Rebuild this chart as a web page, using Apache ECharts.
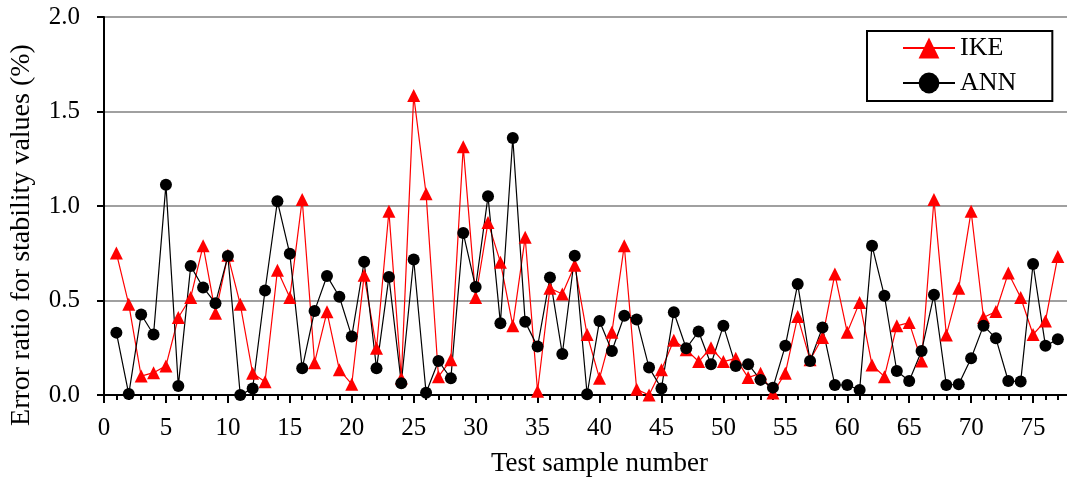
<!DOCTYPE html>
<html>
<head>
<meta charset="utf-8">
<script src="https://cdn.jsdelivr.net/npm/echarts@6/dist/echarts.min.js"></script>
<style>
html,body{margin:0;padding:0;background:#fff;}
#chart{width:1067px;height:484px;}
</style>
</head>
<body>
<div id="chart"></div>
<script>
const samples = [1,2,3,4,5,6,7,8,9,10,11,12,13,14,15,16,17,18,19,20,21,22,23,24,25,26,27,28,29,30,31,32,33,34,35,36,37,38,39,40,41,42,43,44,45,46,47,48,49,50,51,52,53,54,55,56,57,58,59,60,61,62,63,64,65,66,67,68,69,70,71,72,73,74,75,76,77];
const ike = [0.751,0.48,0.10,0.118,0.154,0.41,0.516,0.79,0.433,0.739,
  0.48,0.115,0.07,0.66,0.516,1.034,0.171,0.44,0.133,0.057,
  0.633,0.247,0.972,0.088,1.585,1.065,0.097,0.186,1.313,0.516,
  0.913,0.703,0.367,0.834,0.02,0.565,0.534,0.686,0.32,0.088,
  0.332,0.79,0.03,0.0,0.133,0.29,0.24,0.177,0.25,0.177,
  0.194,0.092,0.115,0.01,0.115,0.415,0.186,0.304,0.64,0.332,
  0.49,0.159,0.097,0.366,0.383,0.18,1.034,0.318,0.565,0.972,
  0.41,0.442,0.645,0.516,0.32,0.392,0.733];
const ann = [0.33,0.005,0.426,0.32,1.113,0.048,0.682,0.569,0.486,0.735,
  0.0,0.035,0.553,1.025,0.747,0.141,0.445,0.63,0.52,0.31,
  0.705,0.141,0.624,0.062,0.717,0.012,0.18,0.088,0.857,0.571,
  1.051,0.38,1.36,0.387,0.256,0.622,0.217,0.737,0.004,0.392,
  0.233,0.419,0.40,0.145,0.035,0.438,0.247,0.336,0.163,0.367,
  0.154,0.163,0.08,0.039,0.26,0.587,0.18,0.357,0.053,0.053,
  0.027,0.79,0.525,0.127,0.074,0.233,0.53,0.053,0.057,0.194,
  0.367,0.30,0.074,0.071,0.693,0.26,0.295];
const seriesNames = ['IKE','ANN'];
const xTitle = 'Test sample number';
const yTitle = 'Error ratio for stability values (%)';

const font = 'Liberation Serif';
const chart = echarts.init(document.getElementById('chart'));
chart.setOption({
  animation: false,
  backgroundColor: '#fff',
  grid: {left: 104, top: 17, width: 991, height: 378, containLabel: false, outerBoundsMode: 'none', show: true, borderColor: '#000', borderWidth: 2, backgroundColor: 'transparent'},
  legend: {
    orient: 'vertical', left: 867, top: 31,
    data: seriesNames,
    borderColor: '#000', borderWidth: 2, borderRadius: 0,
    padding: [4, 36, 5, 35],
    itemWidth: 52, itemHeight: 26, itemGap: 9,
    textStyle: {fontFamily: font, fontSize: 26, color: '#000'},
    backgroundColor: '#fff'
  },
  graphic: [{
    type: 'text', x: 22, y: 235, rotation: Math.PI / 2,
    style: {text: yTitle, fontFamily: font, fontSize: 28, fill: '#000', align: 'center', verticalAlign: 'middle'}
  }],
  xAxis: {
    type: 'value', min: 0, max: 80, interval: 5,
    name: xTitle, nameLocation: 'middle', nameGap: 55,
    nameTextStyle: {fontFamily: font, fontSize: 27, color: '#000'},
    axisLine: {show: true, lineStyle: {color: '#000', width: 2}},
    axisTick: {show: true, length: 8, lineStyle: {color: '#000', width: 2}},
    minorTick: {show: true, splitNumber: 5, length: 5, lineStyle: {color: '#000', width: 2}},
    axisLabel: {fontFamily: font, fontSize: 25, color: '#000', margin: 21},
    splitLine: {show: false}
  },
  yAxis: {
    type: 'value', min: 0, max: 2, interval: 0.5,
    axisLine: {show: true, lineStyle: {color: '#000', width: 2}},
    axisTick: {show: true, length: 7, lineStyle: {color: '#000', width: 2}},
    axisLabel: {fontFamily: font, fontSize: 25, color: '#000', margin: 24, formatter: v => v.toFixed(1)},
    splitLine: {show: true, lineStyle: {color: '#a0a0a0', width: 2}}
  },
  series: [
    {
      name: seriesNames[0], type: 'line',
      data: samples.map((s, i) => [s, ike[i]]),
      symbol: 'triangle', symbolSize: 13,
      lineStyle: {color: '#ff0000', width: 1.2},
      itemStyle: {color: '#ff0000'},
      clip: false
    },
    {
      name: seriesNames[1], type: 'line',
      data: samples.map((s, i) => [s, ann[i]]),
      symbol: 'circle', symbolSize: 12,
      lineStyle: {color: '#000', width: 1.2},
      itemStyle: {color: '#000'},
      clip: false
    }
  ]
});
</script>
</body>
</html>
